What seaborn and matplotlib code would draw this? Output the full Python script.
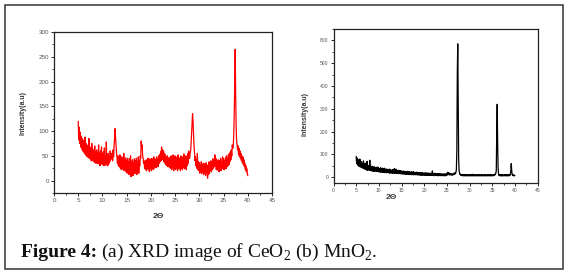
import numpy as np
import seaborn as sns
import matplotlib.pyplot as plt
from matplotlib.patches import Rectangle
from matplotlib.ticker import MultipleLocator

# XRD scans, 2-theta from 5 to 40 deg in 0.1 deg steps
two_theta = np.round(np.arange(5.0, 40.05, 0.1), 1)

ceo2_intensity = [
    120, 82, 108, 75, 98, 68, 90, 64, 85, 60,
    82, 58, 78, 55, 88, 52, 75, 50, 72, 48,
    70, 47, 85, 45, 68, 44, 66, 40, 75, 42,
    64, 40, 60, 38, 70, 36, 58, 35, 62, 38,
    56, 34, 72, 36, 55, 30, 60, 33, 68, 35,
    54, 32, 58, 30, 66, 34, 50, 31, 78, 36,
    52, 30, 55, 34, 48, 38, 60, 42, 55, 45,
    50, 40, 62, 48, 70, 85, 105, 88, 70, 55,
    48, 35, 50, 30, 45, 28, 52, 25, 40, 22,
    48, 25, 44, 22, 55, 20, 42, 24, 46, 18,
    40, 15, 45, 20, 38, 12, 44, 18, 50, 8,
    38, 15, 42, 10, 36, 20, 44, 14, 40, 18,
    45, 12, 38, 20, 48, 15, 42, 30, 50, 45,
    80, 65, 72, 50, 45, 35, 40, 25, 38, 22,
    42, 20, 38, 25, 45, 22, 40, 18, 44, 25,
    38, 20, 45, 24, 40, 22, 48, 25, 42, 28,
    44, 26, 48, 30, 42, 28, 50, 35, 52, 38,
    58, 40, 68, 45, 62, 42, 60, 38, 55, 35,
    52, 32, 48, 30, 50, 28, 46, 30, 44, 26,
    48, 25, 50, 22, 45, 28, 52, 20, 46, 24,
    50, 22, 44, 26, 48, 20, 52, 24, 42, 25,
    46, 20, 50, 25, 44, 22, 48, 28, 54, 24,
    45, 26, 50, 22, 48, 30, 55, 35, 60, 45,
    45, 55, 60, 75, 95, 115, 135, 120, 95, 70,
    58, 40, 48, 30, 42, 25, 55, 22, 38, 20,
    36, 15, 32, 20, 38, 14, 30, 18, 35, 12,
    34, 15, 30, 10, 36, 18, 28, 5, 32, 12,
    38, 15, 34, 20, 40, 18, 36, 22, 44, 25,
    40, 28, 52, 30, 45, 22, 42, 25, 38, 20,
    42, 18, 40, 22, 45, 20, 38, 24, 48, 25,
    44, 22, 40, 26, 46, 24, 50, 28, 45, 30,
    52, 32, 55, 38, 58, 42, 62, 50, 72, 65,
    70, 90, 130, 190, 265, 175, 110, 80, 72, 62,
    70, 52, 65, 48, 60, 44, 55, 40, 50, 36,
    48, 32, 42, 28, 35, 22, 30, 18, 24, 15,
    10,
]

mno2_intensity = [
    92, 60, 85, 55, 78, 50, 72, 48, 80, 45,
    70, 45, 66, 42, 60, 40, 72, 38, 58, 36,
    62, 35, 55, 32, 70, 30, 52, 34, 48, 30,
    75, 30, 50, 28, 45, 30, 48, 26, 44, 28,
    46, 26, 42, 28, 44, 25, 40, 27, 45, 24,
    40, 25, 38, 22, 42, 24, 36, 22, 40, 23,
    38, 22, 40, 20, 35, 22, 37, 20, 34, 21,
    35, 20, 33, 19, 36, 18, 32, 20, 30, 18,
    34, 18, 30, 19, 38, 17, 32, 18, 36, 17,
    30, 18, 28, 16, 31, 17, 27, 15, 29, 16,
    27, 15, 26, 14, 28, 15, 25, 14, 26, 13,
    25, 14, 24, 13, 26, 12, 23, 14, 24, 12,
    23, 12, 24, 11, 22, 12, 25, 11, 21, 12,
    22, 11, 20, 12, 23, 10, 21, 11, 20, 10,
    20, 10, 21, 9, 19, 10, 20, 9, 18, 10,
    19, 9, 18, 10, 20, 8, 17, 9, 19, 8,
    18, 8, 17, 9, 18, 8, 16, 9, 28, 8,
    17, 8, 16, 7, 18, 8, 15, 9, 16, 7,
    16, 7, 15, 8, 16, 7, 15, 8, 14, 7,
    15, 7, 14, 8, 15, 6, 14, 7, 15, 8,
    18, 10, 22, 12, 20, 11, 18, 10, 16, 12,
    15, 9, 14, 10, 16, 12, 18, 14, 20, 16,
    22, 35, 120, 450, 585, 300, 80, 30, 18, 12,
    14, 8, 12, 7, 13, 8, 12, 6, 11, 7,
    12, 6, 11, 7, 12, 6, 10, 7, 11, 6,
    11, 7, 12, 6, 10, 7, 13, 6, 11, 7,
    12, 6, 10, 7, 11, 6, 12, 7, 10, 6,
    11, 7, 12, 6, 11, 7, 10, 6, 12, 7,
    10, 6, 11, 7, 12, 6, 11, 7, 10, 6,
    12, 7, 11, 6, 10, 7, 12, 6, 11, 7,
    11, 6, 10, 7, 12, 8, 14, 12, 18, 30,
    200, 320, 150, 40, 14, 8, 12, 7, 11, 6,
    11, 6, 12, 7, 10, 6, 11, 7, 12, 6,
    11, 7, 12, 6, 10, 7, 11, 6, 12, 8,
    14, 25, 60, 30, 12, 8, 10, 6, 11, 7,
    8,
]

panels = [
    dict(y=ceo2_intensity, color="#ff0000", ylim=(-25, 300), major=50, minor=25,
         rect=[0.0956, 0.2956, 0.3858, 0.5876], tick_fs=4.5,
         xlab_pos=(0.477, -0.125), ylab_pos=(-0.125, 0.5)),
    dict(y=mno2_intensity, color="black", ylim=(-25, 650), major=100, minor=50,
         rect=[0.5903, 0.3321, 0.3611, 0.5620], tick_fs=3.6,
         xlab_pos=(0.285, -0.07), ylab_pos=(-0.125, 0.45)),
]

sns.set_style("ticks")
plt.rcParams["font.family"] = ["Liberation Sans", "DejaVu Sans"]
plt.rcParams["mathtext.fontset"] = "custom"
plt.rcParams["mathtext.rm"] = "Liberation Serif"

fig = plt.figure(figsize=(5.65, 2.74), dpi=100)

for p in panels:
    ax = fig.add_axes(p["rect"])
    sns.lineplot(x=two_theta, y=p["y"], ax=ax, color=p["color"], lw=0.9,
                 estimator=None, sort=False)
    ax.set_xlim(0, 45)
    ax.xaxis.set_major_locator(MultipleLocator(5))
    ax.xaxis.set_minor_locator(MultipleLocator(2.5))
    ax.set_yticks(np.arange(0, p["ylim"][1] + 1, p["major"]))
    ax.yaxis.set_minor_locator(MultipleLocator(p["minor"]))
    ax.set_ylim(*p["ylim"])
    ax.tick_params(which="major", direction="out", length=2.2, width=0.7,
                   labelsize=p["tick_fs"], labelcolor="#555555", pad=1.5)
    ax.tick_params(which="minor", direction="out", length=1.3, width=0.6)
    for s in ax.spines.values():
        s.set_linewidth(0.9)
        s.set_color("#222222")
    ax.set_xlabel("2Θ", fontsize=6, fontweight="bold", color="#333333")
    ax.set_ylabel("Intensity(a.u)", fontsize=5, fontweight="bold", color="#333333")
    ax.xaxis.set_label_coords(*p["xlab_pos"])
    ax.yaxis.set_label_coords(*p["ylab_pos"])

# outer frame and caption
fig.patches.append(Rectangle((4.5 / 565, 5 / 274), 558 / 565, 264.5 / 274,
                             transform=fig.transFigure, fill=False,
                             lw=1.1, edgecolor="#333333"))
cap_y = 1 - 257 / 274
bold = fig.text(21 / 565, cap_y, "Figure 4:", fontsize=14, fontweight="bold",
                family="Liberation Serif", color="#111111", va="baseline")
renderer = fig.canvas.get_renderer()
bb = bold.get_window_extent(renderer).transformed(fig.transFigure.inverted())
fig.text(bb.x1 + 4 / 565, cap_y, "(a) XRD image of CeO$_2$ (b) MnO$_2$.",
         fontsize=14, family="Liberation Serif", color="#111111", va="baseline")

fig.savefig("out.png", dpi=100)
